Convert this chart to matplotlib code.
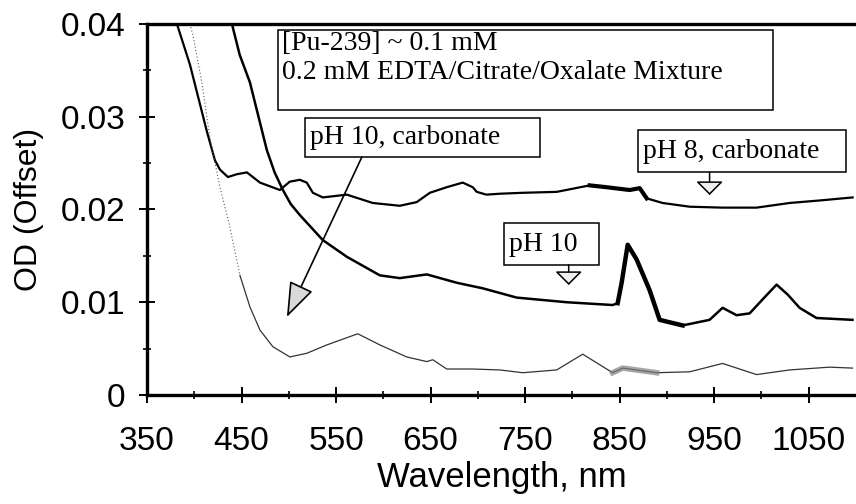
import numpy as np
import matplotlib
matplotlib.use('Agg')
import matplotlib.pyplot as plt
from matplotlib.patches import Rectangle, FancyArrowPatch

# pH 8, carbonate (top trace)
wl_ph8 = [381.7, 395.5, 413.4, 421.9, 427.2, 435.6, 445.0, 455.7, 469.5, 490.6,
          501.0, 511.7, 519.0, 525.5, 536.0, 561.4, 588.9, 617.4, 635.4, 649.2,
          667.0, 684.0, 694.6, 698.8, 709.0, 723.2, 747.5, 783.4, 818.3, 836.3,
          860.6, 871.2, 878.6, 895.5, 924.0, 958.9, 994.8, 1029.7, 1064.7, 1096.4]
od_ph8 = [0.0400, 0.0356, 0.0284, 0.0253, 0.0243, 0.0235, 0.0238, 0.0240, 0.0229, 0.0221,
          0.0230, 0.0232, 0.0229, 0.0218, 0.0213, 0.0216, 0.0207, 0.0204, 0.0208, 0.0218,
          0.0224, 0.0229, 0.0224, 0.0219, 0.0216, 0.0217, 0.0218, 0.0219, 0.0226, 0.0224,
          0.0221, 0.0223, 0.0212, 0.0207, 0.0203, 0.0202, 0.0202, 0.0207, 0.0210, 0.0213]

# pH 10 (middle trace)
wl_ph10 = [439.9, 448.0, 458.9, 467.0, 476.8, 485.0, 493.8, 502.0, 511.7, 536.0,
           561.4, 596.3, 617.4, 646.0, 677.7, 705.2, 741.1, 794.0, 842.6, 847.9,
           852.1, 858.5, 868.0, 881.7, 892.3, 916.6, 945.1, 958.9, 973.7, 987.5,
           1003.0, 1016.0, 1028.0, 1040.3, 1058.2, 1096.3]
od_ph10 = [0.0400, 0.0367, 0.0337, 0.0304, 0.0264, 0.0240, 0.0221, 0.0206, 0.0194, 0.0167,
           0.0149, 0.0129, 0.0126, 0.0130, 0.0121, 0.0115, 0.0105, 0.0100, 0.0097, 0.0099,
           0.0121, 0.0162, 0.0146, 0.0113, 0.0081, 0.0075, 0.0081, 0.0094, 0.0086, 0.0088,
           0.0105, 0.0119, 0.0108, 0.0094, 0.0083, 0.0081]

# pH 10, carbonate (bottom trace)
wl_carb = [395.5, 398.6, 408.1, 416.6, 427.2, 437.7, 448.3, 458.9, 469.5, 483.2,
           501.2, 519.1, 540.3, 573.0, 596.3, 624.8, 646.0, 652.3, 667.1, 694.6,
           723.2, 747.5, 783.4, 810.9, 842.6, 853.2, 889.1, 924.0, 958.9, 994.8,
           1029.7, 1072.0, 1096.3]
od_carb = [0.0400, 0.0388, 0.0337, 0.0277, 0.0224, 0.0181, 0.0129, 0.0095, 0.0070, 0.0052,
           0.0041, 0.0045, 0.0054, 0.0066, 0.0054, 0.0041, 0.0036, 0.0038, 0.0028, 0.0028,
           0.0027, 0.0024, 0.0027, 0.0044, 0.0024, 0.0029, 0.0024, 0.0025, 0.0034, 0.0022,
           0.0027, 0.0030, 0.0029]

x_major = [350, 450, 550, 650, 750, 850, 950, 1050]
y_major = [0, 0.01, 0.02, 0.03, 0.04]
y_labels = ['0', '0.01', '0.02', '0.03', '0.04']

sans = 'Liberation Sans'
serif = 'Liberation Serif'

fig = plt.figure(figsize=(8.56, 5.04), dpi=100)
ax = fig.add_axes([0.1717, 0.2163, 0.8283, 0.7361])

wl8, od8 = np.array(wl_ph8), np.array(od_ph8)
wl10, od10 = np.array(wl_ph10), np.array(od_ph10)
wlc, odc = np.array(wl_carb), np.array(od_carb)

ax.plot(wl8, od8, color='black', lw=1.6, solid_joinstyle='round')
m = (wl8 > 815) & (wl8 < 885)
ax.plot(wl8[m], od8[m], color='black', lw=3.0, solid_joinstyle='round')

ax.plot(wl10, od10, color='black', lw=1.8, solid_joinstyle='round')
m = (wl10 > 845) & (wl10 < 925)
ax.plot(wl10[m], od10[m], color='black', lw=3.2, solid_joinstyle='round')

up = wlc <= 450
ax.plot(wlc[up], odc[up], color='0.35', lw=0.8, ls=(0, (1, 2)))
low = wlc >= 440
ax.plot(wlc[low], odc[low], color='0.2', lw=0.9)
m = (wlc > 840) & (wlc < 895)
ax.plot(wlc[m], odc[m], color='0.5', lw=4, alpha=0.7)

ax.set_xlim(350, 1100)
ax.set_ylim(0, 0.04)
ax.set_xticks(x_major)
ax.set_xticks([400, 500, 600, 700, 800, 900, 1000], minor=True)
ax.set_yticks(y_major)
ax.set_yticklabels(y_labels)
ax.set_yticks([0.005, 0.015, 0.025, 0.035], minor=True)

for s in ['left', 'bottom', 'top']:
    ax.spines[s].set_linewidth(2.4)
ax.spines['right'].set_visible(False)

ax.tick_params(which='major', direction='inout', length=11, width=1.4,
               labelsize=24, top=False, right=False)
ax.tick_params(which='minor', direction='inout', length=6, width=1.2,
               top=False, right=False)
ax.tick_params(axis='x', which='major', pad=17)
ax.tick_params(axis='y', which='major', pad=10)
for lab in ax.get_xticklabels() + ax.get_yticklabels():
    lab.set_family(sans)

ax.set_xlabel('Wavelength, nm', family=sans, fontsize=25, labelpad=3)
ax.set_ylabel('OD (Offset)', family=sans, fontsize=23)
ax.yaxis.set_label_coords(-0.145, 0.5)

# annotation boxes
boxes = [
    (0.1846, 0.768, 0.699, 0.216),
    (0.2227, 0.6415, 0.331, 0.105),
    (0.692, 0.601, 0.2946, 0.1133),
    (0.503, 0.3504, 0.134, 0.1132),
]
for x0, y0, w, h in boxes:
    ax.add_patch(Rectangle((x0, y0), w, h, transform=ax.transAxes,
                           facecolor='white', edgecolor='black', lw=1.1,
                           zorder=5))

tk = dict(transform=ax.transAxes, family=serif, fontsize=20, zorder=6,
          va='center', ha='left')
ax.text(0.190, 0.948, '[Pu-239] ~ 0.1 mM', **tk)
ax.text(0.190, 0.870, '0.2 mM EDTA/Citrate/Oxalate Mixture', **tk)
ax.text(0.230, 0.693, 'pH 10, carbonate', **tk)
ax.text(0.700, 0.655, 'pH 8, carbonate', **tk)
ax.text(0.511, 0.405, 'pH 10', **tk)

# arrows
big = FancyArrowPatch((0.303, 0.641), (0.1973, 0.2102), transform=ax.transAxes,
                      arrowstyle='-|>,head_length=22,head_width=8',
                      mutation_scale=1, shrinkA=0, shrinkB=0, lw=1.2,
                      facecolor='#d9d9d9', edgecolor='black', zorder=6)
ax.add_patch(big)
for xa, ya, yb in [(0.7935, 0.601, 0.539), (0.5948, 0.3504, 0.2965)]:
    ax.add_patch(FancyArrowPatch((xa, ya), (xa, yb), transform=ax.transAxes,
                                 arrowstyle='-|>,head_length=8.5,head_width=8.5',
                                 mutation_scale=1, shrinkA=0, shrinkB=0, lw=1.1,
                                 facecolor='#eeeeee', edgecolor='black', zorder=6))

fig.savefig('out.png', dpi=100)
